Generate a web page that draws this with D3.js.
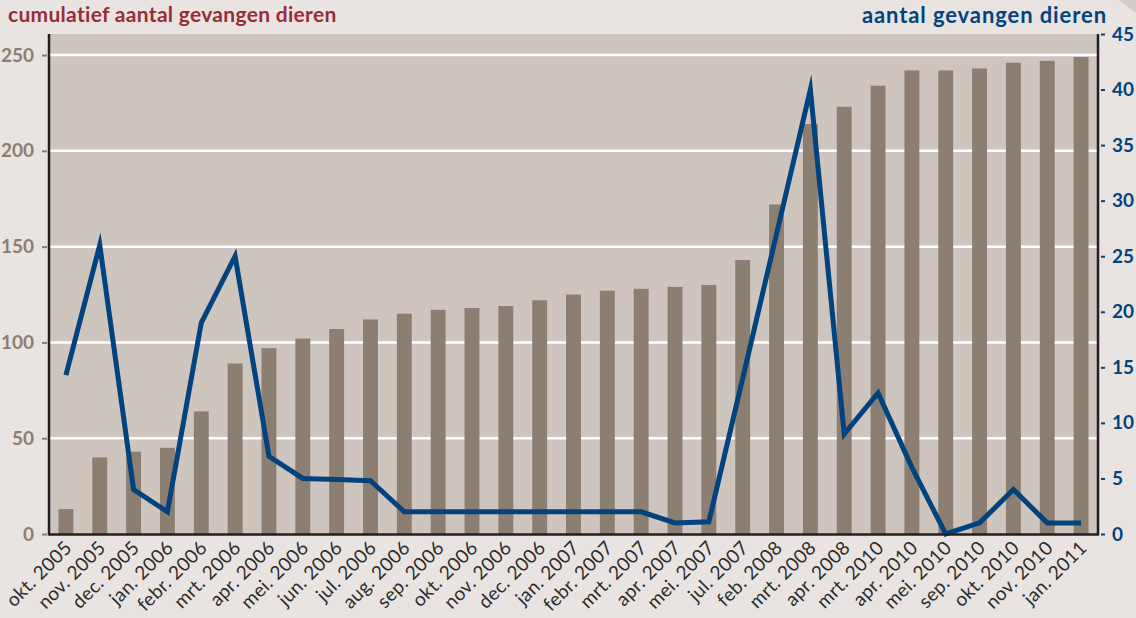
<!DOCTYPE html>
<html>
<head>
<meta charset="utf-8">
<script src="https://cdn.jsdelivr.net/npm/d3@7"></script>
<style>
  body { margin: 0; background: #e9e4e1; }
  svg { display: block; }
</style>
</head>
<body>
<script>
// cumulatief (staven) en per maand (lijn) gevangen dieren
let w = 1136;
let h = 618;

let categories = ["okt. 2005", "nov. 2005", "dec. 2005", "jan. 2006", "febr. 2006", "mrt. 2006",
  "apr. 2006", "mei. 2006", "jun. 2006", "jul. 2006", "aug. 2006", "sep. 2006", "okt. 2006",
  "nov. 2006", "dec. 2006", "jan. 2007", "febr. 2007", "mrt. 2007", "apr. 2007", "mei. 2007",
  "jul. 2007", "feb. 2008", "mrt. 2008", "apr. 2008", "mrt. 2010", "apr. 2010", "mei. 2010",
  "sep. 2010", "okt. 2010", "nov. 2010", "jan. 2011"];
let cumulative = [13, 40, 43, 45, 64, 89, 97, 102, 107, 112, 115, 117, 118, 119, 122, 125, 127,
  128, 129, 130, 143, 172, 214, 223, 234, 242, 242, 243, 246, 247, 249];
let caught = [14.3, 26, 4, 2, 19, 25, 7, 5, 4.9, 4.8, 2, 2, 2, 2, 2, 2, 2, 2, 1, 1.1, 14, 27, 40,
  9, 12.7, 6, 0, 1, 4, 1, 1];
let leftTicks = [0, 50, 100, 150, 200, 250];
let rightTicks = [0, 5, 10, 15, 20, 25, 30, 35, 40, 45];

let pLeft = 49, pRight = 1098, pTop = 34, pBottom = 534;

let svg = d3.select('body').append('svg')
    .attr('width', w)
    .attr('height', h)
    .style('font-family', 'Lato, "Open Sans", sans-serif');

svg.append('rect').attr('width', w).attr('height', h).attr('fill', '#e9e4e1');
// folded corner, top right
svg.append('path').attr('d', 'M1119,0 L1136,0 L1136,13 Z').attr('fill', '#d3cbc6');

let x = d3.scaleBand().domain(categories).range([pLeft, pRight]).paddingInner(0.56).paddingOuter(0.28);
let yL = d3.scaleLinear().domain([0, 261]).range([pBottom, pTop]);
let yR = d3.scaleLinear().domain([0, 45]).range([pBottom, pTop]);

svg.append('rect')
    .attr('x', pLeft).attr('y', pTop)
    .attr('width', pRight - pLeft).attr('height', pBottom - pTop)
    .attr('fill', '#cec5bf');

// gridlines
svg.selectAll('line.grid')
    .data(leftTicks.filter(d => d > 0))
    .enter()
    .append('line')
    .attr('class', 'grid')
    .attr('x1', pLeft).attr('x2', pRight)
    .attr('y1', d => yL(d)).attr('y2', d => yL(d))
    .attr('stroke', '#ffffff')
    .attr('stroke-width', 2.5);

svg.selectAll('rect.bar')
    .data(cumulative)
    .enter()
    .append('rect')
    .attr('class', 'bar')
    .attr('x', (d, i) => x(categories[i]))
    .attr('y', d => yL(d))
    .attr('width', x.bandwidth())
    .attr('height', d => pBottom - yL(d))
    .attr('fill', '#8c7e71');

let line = d3.line()
    .x((d, i) => x(categories[i]) + x.bandwidth() / 2)
    .y(d => yR(d));

svg.append('path')
    .datum(caught)
    .attr('d', line)
    .attr('fill', 'none')
    .attr('stroke', '#00437f')
    .attr('stroke-width', 5)
    .attr('stroke-linejoin', 'miter')
    .attr('stroke-miterlimit', 20);

// left axis
let axL = svg.append('g')
    .attr('transform', `translate(${pLeft - 1},0)`)
    .call(d3.axisLeft(yL).tickValues(leftTicks).tickSize(6).tickPadding(8));
axL.select('.domain').remove();
axL.selectAll('line').attr('stroke', '#8c7e71').attr('stroke-width', 2).attr('x2', -6).attr('x1', -1);
axL.selectAll('text')
    .attr('fill', '#8c7e71')
    .style('font-size', '19px')
    .style('font-weight', 700)
    .style('font-family', 'Lato, sans-serif');

// right axis
let axR = svg.append('g')
    .attr('transform', `translate(${pRight + 1},0)`)
    .call(d3.axisRight(yR).tickValues(rightTicks).tickSize(6).tickPadding(7));
axR.select('.domain').remove();
axR.selectAll('line').attr('stroke', '#00437f').attr('stroke-width', 2).attr('x1', 2).attr('x2', 6);
axR.selectAll('text')
    .attr('fill', '#00437f')
    .style('font-size', '19px')
    .style('font-weight', 700)
    .style('font-family', 'Lato, sans-serif');

// frame lines
svg.append('line').attr('x1', pLeft).attr('x2', pLeft).attr('y1', pTop).attr('y2', pBottom + 1.5)
    .attr('stroke', '#231f20').attr('stroke-width', 2.5);
svg.append('line').attr('x1', pRight).attr('x2', pRight).attr('y1', pTop).attr('y2', pBottom + 1.5)
    .attr('stroke', '#231f20').attr('stroke-width', 2.5);
svg.append('line').attr('x1', pLeft).attr('x2', pRight).attr('y1', pBottom + 0.5).attr('y2', pBottom + 0.5)
    .attr('stroke', '#231f20').attr('stroke-width', 2.5);

// x labels
svg.selectAll('text.xlab')
    .data(categories)
    .enter()
    .append('text')
    .attr('class', 'xlab')
    .attr('transform', d => `translate(${x(d) + x.bandwidth() / 2 + 7},${pBottom + 15}) rotate(-45)`)
    .attr('text-anchor', 'end')
    .attr('fill', '#2e2b2a')
    .style('font-size', '19px')
    .style('letter-spacing', '0.3px')
    .text(d => d);

// titles
svg.append('text')
    .attr('x', 8).attr('y', 22)
    .attr('fill', '#9b2b37')
    .style('font-size', '21px')
    .style('font-weight', 700)
    .style('letter-spacing', '0.3px')
    .text('cumulatief aantal gevangen dieren');

svg.append('text')
    .attr('x', 1107).attr('y', 23)
    .attr('text-anchor', 'end')
    .attr('fill', '#00437f')
    .style('font-size', '22px')
    .style('font-weight', 700)
    .style('letter-spacing', '0.9px')
    .text('aantal gevangen dieren');
</script>
</body>
</html>
